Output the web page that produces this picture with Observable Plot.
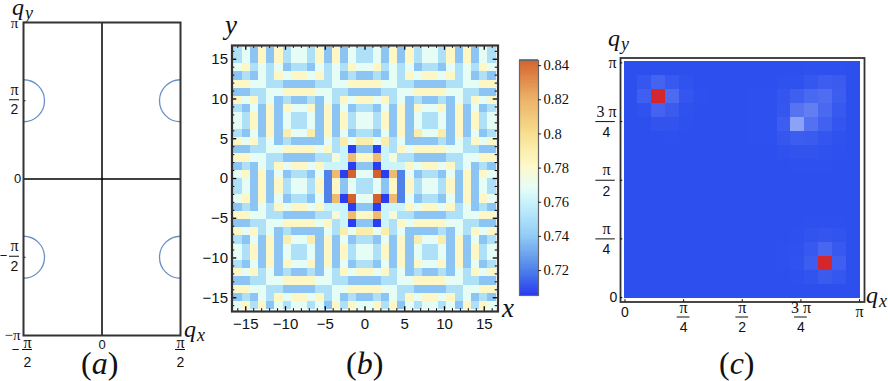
<!DOCTYPE html>
<html><head><meta charset="utf-8">
<script src="https://cdn.jsdelivr.net/npm/d3@7"></script>
<script src="https://cdn.jsdelivr.net/npm/@observablehq/plot@0.6"></script>
<style>
html,body{margin:0;padding:0;background:#fff}
#stage{position:relative;width:888px;height:381px;overflow:hidden}
#stage svg{position:absolute;top:0;max-width:none}
.m{position:absolute;font:italic 24px/12px "Liberation Serif",serif;color:#111;white-space:nowrap}
.m span{font-size:18px;position:relative;top:4px;margin-left:1px}
.p{position:absolute;font:32px/24px "Liberation Serif",serif;color:#111;white-space:nowrap}
.p i{font-style:italic}
</style></head>
<body>
<div id="stage">
<div class="m" style="left:12px;top:1px">q<span>y</span></div>
<div class="m" style="left:184px;top:323px">q<span>x</span></div>
<div class="m" style="left:225px;top:19px;font-size:27px">y</div>
<div class="m" style="left:502px;top:302px;font-size:27px">x</div>
<div class="m" style="left:608px;top:32px">q<span>y</span></div>
<div class="m" style="left:866px;top:289px">q<span>x</span></div>
<div class="p" style="left:81px;top:351px">(<i>a</i>)</div>
<div class="p" style="left:346px;top:351px">(<i>b</i>)</div>
<div class="p" style="left:719px;top:351px">(<i>c</i>)</div>
</div>
<script>
const pi = Math.PI;
const SANS = '"Liberation Sans",Arial,sans-serif', SERIF = '"Liberation Serif",serif';

/* ---------- panel (a) data ---------- */
const aCenters = [
  {x: -pi/2, y:  pi/2}, {x: pi/2, y:  pi/2},
  {x: -pi/2, y: -pi/2}, {x: pi/2, y: -pi/2}
];
const aYTicks = [pi/2, -pi/2];

/* ---------- panel (b) data: correlation levels ---------- */
const D=.7055, P=.72, B=.738, b=.75, k=.76, c=.768, w=.776, Y=.782, y=.79, O=.815, R=.843;
const bGrid = [
[b,c,B,Y,B,Y,b,c,c,b,Y,B,Y,B,c,b, b,c,B,Y,B,Y,b,c,c,b,Y,B,Y,B,c,b],
[b,c,B,Y,B,Y,b,c,c,b,Y,B,Y,B,c,b, b,c,B,Y,B,Y,b,c,c,b,Y,B,Y,B,c,b],
[c,Y,b,c,b,c,B,b,b,B,c,b,c,b,Y,c, c,Y,b,c,b,c,B,b,b,B,c,b,c,b,Y,c],
[B,b,B,c,b,Y,c,Y,Y,c,Y,b,c,B,b,B, B,b,B,c,b,Y,c,Y,Y,c,Y,b,c,B,b,B],
[Y,Y,c,c,b,b,B,B,B,B,b,b,c,c,Y,Y, Y,Y,c,c,b,b,B,B,B,B,b,b,c,c,Y,Y],
[B,B,b,b,c,c,Y,Y,Y,Y,c,c,b,b,B,B, B,B,b,b,c,c,Y,Y,Y,Y,c,c,b,b,B,B],
[Y,c,Y,b,c,B,b,B,B,b,B,c,b,Y,c,Y, Y,c,Y,b,c,B,b,B,B,b,B,c,b,Y,c,Y],
[b,B,c,B,Y,B,Y,c,c,Y,B,Y,B,c,B,b, b,B,c,B,Y,B,Y,c,c,Y,B,Y,B,c,B,b],
[c,b,Y,B,Y,B,c,b,b,c,B,Y,B,Y,b,c, c,b,Y,B,Y,B,c,b,b,c,B,Y,B,Y,b,c],
[c,b,Y,B,Y,B,c,b,b,c,B,Y,B,Y,b,c, c,b,Y,B,Y,B,c,b,b,c,B,Y,B,Y,b,c],
[b,B,c,B,Y,B,y,c,c,y,B,Y,B,c,B,b, b,B,c,B,Y,B,y,c,c,y,B,Y,B,c,B,b],
[Y,c,Y,b,c,B,b,B,B,B,B,c,b,y,c,y, y,c,y,b,c,B,B,B,B,b,B,c,b,Y,c,Y],
[B,B,b,b,c,c,Y,Y,Y,Y,c,Y,b,k,D,B, B,D,k,b,Y,c,Y,Y,Y,Y,c,c,b,b,B,B],
[Y,Y,c,c,b,b,B,B,B,B,b,b,w,k,O,Y, Y,O,k,w,b,b,B,B,B,B,b,b,c,c,Y,Y],
[B,b,B,c,b,Y,c,Y,Y,c,Y,k,k,k,D,B, B,D,k,k,k,Y,c,Y,Y,c,Y,b,c,B,b,B],
[c,Y,B,Y,B,c,B,b,b,B,c,P,O,D,R,c, c,R,D,O,P,c,B,b,b,B,c,B,Y,B,Y,c],
[b,c,B,Y,B,Y,b,c,c,b,Y,P,Y,B,c,b, b,c,B,Y,P,Y,b,c,c,b,Y,B,Y,B,c,b],
[b,c,B,Y,B,Y,b,c,c,b,Y,P,Y,B,c,b, b,c,B,Y,P,Y,b,c,c,b,Y,B,Y,B,c,b],
[c,Y,B,Y,B,c,B,b,b,B,c,P,O,D,R,c, c,R,D,O,P,c,B,b,b,B,c,B,Y,B,Y,c],
[B,b,B,c,b,Y,c,Y,Y,c,Y,k,k,k,D,B, B,D,k,k,k,Y,c,Y,Y,c,Y,b,c,B,b,B],
[Y,Y,c,c,b,b,B,B,B,B,b,b,w,k,O,Y, Y,O,k,w,b,b,B,B,B,B,b,b,c,c,Y,Y],
[B,B,b,b,c,c,Y,Y,Y,Y,c,Y,b,k,D,B, B,D,k,b,Y,c,Y,Y,Y,Y,c,c,b,b,B,B],
[Y,c,Y,b,c,B,b,B,B,B,B,c,b,y,c,y, y,c,y,b,c,B,B,B,B,b,B,c,b,Y,c,Y],
[b,B,c,B,Y,B,y,c,c,y,B,Y,B,c,B,b, b,B,c,B,Y,B,y,c,c,y,B,Y,B,c,B,b],
[c,b,Y,B,Y,B,c,b,b,c,B,Y,B,Y,b,c, c,b,Y,B,Y,B,c,b,b,c,B,Y,B,Y,b,c],
[c,b,Y,B,Y,B,c,b,b,c,B,Y,B,Y,b,c, c,b,Y,B,Y,B,c,b,b,c,B,Y,B,Y,b,c],
[b,B,c,B,Y,B,Y,c,c,Y,B,Y,B,c,B,b, b,B,c,B,Y,B,Y,c,c,Y,B,Y,B,c,B,b],
[Y,c,Y,b,c,B,b,B,B,b,B,c,b,Y,c,Y, Y,c,Y,b,c,B,b,B,B,b,B,c,b,Y,c,Y],
[B,B,b,b,c,c,Y,Y,Y,Y,c,c,b,b,B,B, B,B,b,b,c,c,Y,Y,Y,Y,c,c,b,b,B,B],
[Y,Y,c,c,b,b,B,B,B,B,b,b,c,c,Y,Y, Y,Y,c,c,b,b,B,B,B,B,b,b,c,c,Y,Y],
[B,b,B,c,b,Y,c,Y,Y,c,Y,b,c,B,b,B, B,b,B,c,b,Y,c,Y,Y,c,Y,b,c,B,b,B],
[c,Y,b,Y,B,c,b,c,c,b,c,B,Y,b,Y,c, c,Y,b,Y,B,c,b,c,c,b,c,B,Y,b,Y,c]
];
const bMajor = [-15,-10,-5,0,5,10,15];
const bMinor = [-16,-14,-13,-12,-11,-9,-8,-7,-6,-4,-3,-2,-1,1,2,3,4,6,7,8,9,11,12,13,14,16];
const barTicks = [.72,.74,.76,.78,.8,.82,.84];
const barLabels = ["0.72","0.74","0.76","0.78","0.8","0.82","0.84"];
const colorStops  = [.7054,.72,.73,.74,.75,.76,.768,.78,.79,.8,.82,.843];
const colorValues = ["#2a3df0","#4f83ea","#72a8ef","#93ccf5","#aee0f8","#cbf4fb","#e6fdf6","#fdf9cb","#fbeeac","#f7dd8f","#ebb167","#d5612e"];

/* ---------- panel (c) data: structure factor (relative), top row = q_y near pi ---------- */
const cGrid = [
[0,0,0,0,0,0,0,0,0,0,0,0,0,.005,.005,.005,0],
[0,.04,.1,.05,.015,0,0,0,0,0,0,.01,.01,.04,.07,.06,0],
[0,.08,1,.14,.03,.005,0,0,0,.005,.005,.03,.08,.13,.15,.07,0],
[0,.015,.1,.06,.01,0,0,0,0,.005,.005,.04,.18,.24,.13,.05,0],
[0,0,.02,.02,.005,0,0,0,0,.005,.005,.07,.42,.17,.09,.03,0],
[0,0,0,.005,0,0,0,0,0,.005,.005,.04,.07,.06,.03,.01,0],
[0,0,0,0,0,0,0,0,0,0,0,.01,.02,.02,.01,.005,0],
[0,0,0,0,0,0,0,0,0,0,0,0,.005,.005,.005,0,0],
[0,0,0,0,0,0,0,0,0,0,0,0,0,0,0,0,0],
[0,0,0,0,0,0,0,0,0,0,0,0,0,0,0,0,0],
[0,0,0,0,0,0,0,0,0,0,0,0,0,0,0,0,0],
[0,0,0,0,0,0,0,0,0,0,0,0,0,.005,.005,.005,0],
[0,0,0,0,0,0,0,0,0,0,0,0,.005,.02,.03,.02,0],
[0,0,0,0,0,0,0,0,0,0,0,.005,.01,.05,.12,.05,0],
[0,0,0,0,0,0,0,0,0,0,0,.005,.015,.07,1,.08,0],
[0,0,0,0,0,0,0,0,0,0,0,0,.005,.02,.06,.04,0],
[0,0,0,0,0,0,0,0,0,0,0,0,0,0,0,0,0]
];
const cStops  = [0,.42,1];
const cColors = ["#2d4fee","#8ca2f7","#d4272d"];
const cMajor = [pi/4,pi/2,3*pi/4];

const stage = document.getElementById("stage");
function add(svg,left){ svg.style.left = left+"px"; svg.style.background="transparent"; stage.appendChild(svg); }
const txt = (d,o) => Plot.text(d,{fill:"#111",stroke:null,...o});

/* ---------- (a) ---------- */
add(Plot.plot({
  width:210,height:381,marginLeft:23,marginRight:30,marginTop:22,marginBottom:46,
  x:{domain:[-pi/2,pi/2],axis:null}, y:{domain:[-pi,pi],axis:null},
  marks:[
    Plot.dot(aCenters,{x:"x",y:"y",r:21,stroke:"#6a8fc8",strokeWidth:1.3,fill:"none",clip:true}),
    Plot.ruleX([0],{stroke:"#000",strokeWidth:1.5}),
    Plot.ruleY([0],{stroke:"#000",strokeWidth:1.5}),
    Plot.ruleY(aYTicks,{x1:-pi/2,x2:-pi/2+.05,stroke:"#000"}),
    Plot.frame({stroke:"#333",strokeWidth:2}),
    // y labels
    txt([pi],{x:-pi/2,y:d=>d,text:()=>"π",dx:-9,dy:1,fontSize:15,fontFamily:SERIF}),
    txt(aYTicks,{x:-pi/2,y:d=>d,text:()=>"π",dx:-9,dy:-11,fontSize:16,fontFamily:SERIF}),
    Plot.ruleY(aYTicks,{x1:-pi/2-.28,x2:-pi/2-.08,stroke:"#111",strokeWidth:1,dy:-1}),
    txt(aYTicks,{x:-pi/2,y:d=>d,text:()=>"2",dx:-9,dy:9,fontSize:14,fontFamily:SANS}),
    txt([-pi/2],{x:-pi/2,y:d=>d,text:()=>"−",dx:-20,dy:-1,fontSize:13,fontFamily:SANS}),
    txt([0],{x:-pi/2,y:d=>d,text:()=>"0",dx:-6,fontSize:13,fontFamily:SANS}),
    txt([-pi],{x:-pi/2,y:d=>d,text:()=>"−π",dx:-3,textAnchor:"end",fontSize:15,fontFamily:SERIF}),
    // x labels
    txt([0],{x:d=>d,y:-pi,text:()=>"0",dy:9,fontSize:13,fontFamily:SANS}),
    txt([-pi/2],{x:d=>d,y:-pi,text:()=>"π",dx:4,dy:7,fontSize:16,fontFamily:SERIF}),
    txt([pi/2],{x:d=>d,y:-pi,text:()=>"π",dy:7,fontSize:16,fontFamily:SERIF}),
    Plot.ruleY([-pi],{x1:-pi/2-.02,x2:-pi/2+.18,stroke:"#111",dy:14}),
    Plot.ruleY([-pi],{x1:pi/2-.1,x2:pi/2+.1,stroke:"#111",dy:14}),
    txt([-pi/2],{x:d=>d,y:-pi,text:()=>"2",dx:4,dy:27,fontSize:14,fontFamily:SANS}),
    txt([pi/2],{x:d=>d,y:-pi,text:()=>"2",dy:27,fontSize:14,fontFamily:SANS}),
    txt([-pi/2],{x:d=>d,y:-pi,text:()=>"−",dx:-8,dy:14,fontSize:13,fontFamily:SANS})
  ]
}),0);

/* ---------- (b) ---------- */
const bCells = bGrid.flatMap((row,r)=>row.map((v,col)=>({
  x1:-16.5+col*33/32, x2:-16.5+(col+1)*33/32,
  y1:16.5-r*33/32, y2:16.5-(r+1)*33/32, v
})));
const bEdge = 16.73, bIn = 16.73-.35, bInMajor = 16.73-.6;
add(Plot.plot({
  width:330,height:381,marginLeft:31.5,marginRight:32.5,marginTop:45,marginBottom:70,
  x:{domain:[-bEdge,bEdge],axis:null}, y:{domain:[-bEdge,bEdge],axis:null},
  color:{type:"linear",domain:colorStops,range:colorValues},
  marks:[
    Plot.rect(bCells,{x1:"x1",x2:"x2",y1:"y1",y2:"y2",fill:"v",shapeRendering:"crispEdges"}),
    Plot.ruleX(bMinor,{y1:-bEdge,y2:-bIn,stroke:"#000"}),
    Plot.ruleX(bMinor,{y1:bEdge,y2:bIn,stroke:"#000"}),
    Plot.ruleY(bMinor,{x1:-bEdge,x2:-bIn,stroke:"#000"}),
    Plot.ruleY(bMinor,{x1:bEdge,x2:bIn,stroke:"#000"}),
    Plot.ruleX(bMajor,{y1:-bEdge,y2:-bInMajor,stroke:"#000",strokeWidth:1.3}),
    Plot.ruleX(bMajor,{y1:bEdge,y2:bInMajor,stroke:"#000",strokeWidth:1.3}),
    Plot.ruleY(bMajor,{x1:-bEdge,x2:-bInMajor,stroke:"#000",strokeWidth:1.3}),
    Plot.ruleY(bMajor,{x1:bEdge,x2:bInMajor,stroke:"#000",strokeWidth:1.3}),
    Plot.frame({stroke:"#333",strokeWidth:2.2}),
    txt(bMajor,{x:d=>d,y:-bEdge,text:d=>d<0?"−"+(-d):""+d,dy:13,fontSize:15,fontFamily:SANS}),
    txt(bMajor,{x:-bEdge,y:d=>d,text:d=>d<0?"−"+(-d):""+d,dx:-4,textAnchor:"end",fontSize:15,fontFamily:SANS})
  ]
}),200);

/* ---------- colour bar ---------- */
const barLevels = d3.range(.7054,.843,.001);
add(Plot.plot({
  width:90,height:381,marginLeft:14,marginRight:57,marginTop:60,marginBottom:86,
  x:{domain:[0,1],axis:null}, y:{domain:[.7054,.843],axis:null},
  color:{type:"linear",domain:colorStops,range:colorValues},
  marks:[
    Plot.rect(barLevels,{x1:0,x2:1,y1:d=>d,y2:d=>d+.0012,fill:d=>d,shapeRendering:"crispEdges"}),
    Plot.frame({stroke:"#666",strokeWidth:1.2}),
    Plot.ruleY(barTicks,{x1:1,x2:1.16,stroke:"#222"}),
    txt(barTicks,{x:1,y:d=>d,text:(d,i)=>barLabels[i],dx:5,textAnchor:"start",fontSize:14.5,fontFamily:SERIF})
  ]
}),505);

/* ---------- (c) ---------- */
const cStep = 1.008*pi/17, cLo = -.004*pi, cHi = 1.004*pi;
const cCells = cGrid.flatMap((row,r)=>row.map((v,col)=>({
  x1:cLo+col*cStep, x2:cLo+(col+1)*cStep,
  y1:cHi-r*cStep, y2:cHi-(r+1)*cStep, v
})));
const cXd = [-.019*pi,1.021*pi];
const cTick = .03;
add(Plot.plot({
  width:285,height:381,marginLeft:25,marginRight:16,marginTop:57.5,marginBottom:79.5,
  x:{domain:cXd,axis:null}, y:{domain:cXd,axis:null},
  color:{type:"linear",domain:cStops,range:cColors},
  marks:[
    Plot.rect(cCells,{x1:"x1",x2:"x2",y1:"y1",y2:"y2",fill:"v",shapeRendering:"crispEdges"}),
    Plot.frame({stroke:"#333",strokeWidth:1.8}),
    Plot.ruleX([0,...cMajor,pi],{y1:cXd[0],y2:cXd[0]+cTick,stroke:"#000"}),
    Plot.ruleY([0,...cMajor,pi],{x1:cXd[0],x2:cXd[0]+cTick,stroke:"#000"}),
    // x labels
    txt([0],{x:d=>d,y:cXd[0],text:()=>"0",dy:11,fontSize:14,fontFamily:SANS}),
    txt([pi],{x:d=>d,y:cXd[0],text:()=>"π",dy:10,fontSize:16,fontFamily:SERIF}),
    txt(cMajor,{x:d=>d,y:cXd[0],text:d=>d>2?"3 π":"π",dy:6,fontSize:16,fontFamily:SERIF}),
    Plot.ruleY(cMajor.map(()=>cXd[0]),{x1:(d,i)=>cMajor[i]-.085,x2:(d,i)=>cMajor[i]+.085,stroke:"#111",dy:15}),
    txt(cMajor,{x:d=>d,y:cXd[0],text:d=>Math.abs(d-pi/2)<.01?"2":"4",dy:26,fontSize:14,fontFamily:SANS}),
    // y labels
    txt([0],{x:cXd[0],y:d=>d,text:()=>"0",dx:-7,fontSize:14,fontFamily:SANS}),
    txt([pi],{x:cXd[0],y:d=>d,text:()=>"π",dx:-8,fontSize:16,fontFamily:SERIF}),
    txt(cMajor,{x:cXd[0],y:d=>d,text:d=>d>2?"3 π":"π",dx:-14,dy:-10,fontSize:16,fontFamily:SERIF}),
    Plot.ruleY(cMajor,{x1:cXd[0]-.33,x2:cXd[0]-.07,stroke:"#111"}),
    txt(cMajor,{x:cXd[0],y:d=>d,text:d=>Math.abs(d-pi/2)<.01?"2":"4",dx:-14,dy:11,fontSize:14,fontFamily:SANS})
  ]
}),595);
</script>
</body></html>
